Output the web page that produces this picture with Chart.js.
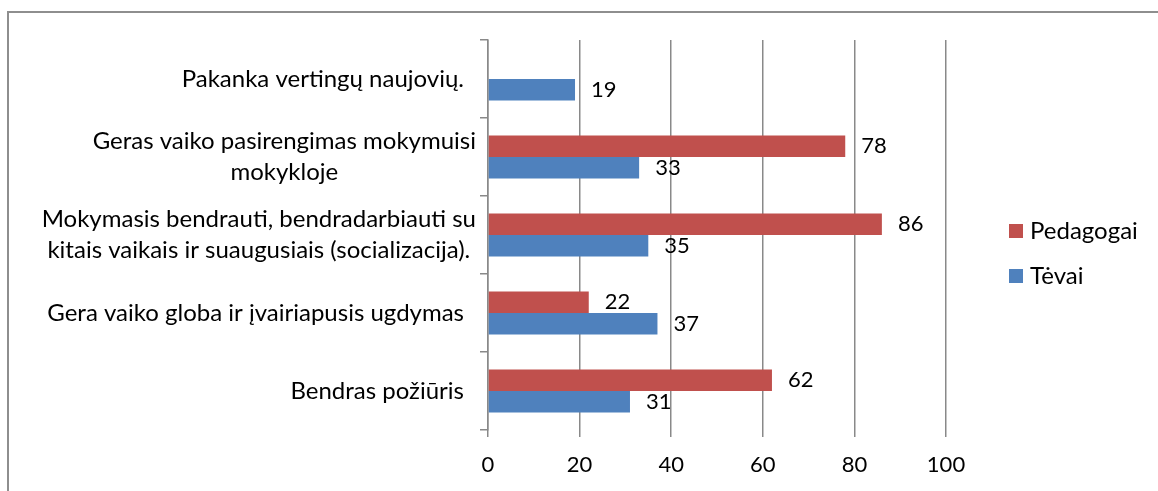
<!DOCTYPE html>
<html>
<head>
<meta charset="utf-8">
<script src="https://cdn.jsdelivr.net/npm/chart.js@4.4.0/dist/chart.umd.min.js"></script>
<style>
    html, body { margin: 0; padding: 0; background: #fff; }
    #wrap { position: relative; width: 1158px; height: 491px; overflow: hidden; }
    #frame { position: absolute; left: 7px; top: 11px; width: 1200px; height: 600px;
             border-left: 2px solid #8e8e8e; border-top: 2px solid #8e8e8e; }
    canvas { position: absolute; left: 0; top: 0; }
</style>
</head>
<body>
<div id="wrap">
    <div id="frame"></div>
    <canvas id="barChart" width="1158" height="491"></canvas>
</div>
<script>
const categories = [
    ['Pakanka vertingų naujovių.'],
    ['Geras vaiko pasirengimas mokymuisi', 'mokykloje'],
    ['Mokymasis bendrauti, bendradarbiauti su', 'kitais vaikais ir suaugusiais (socializacija).'],
    ['Gera vaiko globa ir įvairiapusis ugdymas'],
    ['Bendras požiūris'],
];
const pedagogai = [null, 78, 86, 22, 62];
const tevai = [19, 33, 35, 37, 31];
const seriesNames = ['Pedagogai', 'Tėvai'];
const xMin = 0;
const xMax = 100;
const xStep = 20;

const FONT = 'Lato, "Open Sans", sans-serif';
const NUM_SIZE = 22;
const TEXT_SIZE = 24;
const GRID = '#898989';

// value labels, wrapped category labels and legend drawn on top
const overlay = {
    id: 'overlay',
    afterDraw(chart) {
        const ctx = chart.ctx;
        ctx.save();
        ctx.fillStyle = '#000';
        ctx.textBaseline = 'middle';

        ctx.font = `${NUM_SIZE}px ${FONT}`;
        chart.data.datasets.forEach((ds, di) => {
            const meta = chart.getDatasetMeta(di);
            meta.data.forEach((bar, i) => {
                if (ds.data[i] == null) {
                    return;
                }
                ctx.textAlign = 'left';
                ctx.fillText(String(ds.data[i]), bar.x + 16, bar.y);
            });
        });

        ctx.font = `${TEXT_SIZE}px ${FONT}`;
        const yScale = chart.scales.y;
        const lineH = 31;
        categories.forEach((lines, i) => {
            const y = yScale.getPixelForValue(i);
            const right = lines.length > 1 ? 476 : 464;
            const blockW = Math.max(...lines.map((l) => ctx.measureText(l).width));
            const cx = right - blockW / 2;
            ctx.textAlign = 'center';
            lines.forEach((line, j) => {
                ctx.fillText(line, cx, y + (j - (lines.length - 1) / 2) * lineH);
            });
        });

        const legendY = [231, 276];
        chart.data.datasets.forEach((ds, di) => {
            ctx.fillStyle = ds.backgroundColor;
            ctx.fillRect(1009, legendY[di] - 7, 14, 14);
            ctx.fillStyle = '#000';
            ctx.textAlign = 'left';
            ctx.fillText(ds.label, 1030, legendY[di]);
        });
        ctx.restore();
    }
};

new Chart(document.getElementById('barChart').getContext('2d'), {
    type: 'bar',
    data: {
        labels: categories,
        datasets: [
            {
                label: seriesNames[0],
                data: pedagogai,
                backgroundColor: '#C0504D',
                borderWidth: 0,
                barPercentage: 1,
                categoryPercentage: 0.55,
            },
            {
                label: seriesNames[1],
                data: tevai,
                backgroundColor: '#4F81BD',
                borderWidth: 0,
                barPercentage: 1,
                categoryPercentage: 0.55,
            }
        ]
    },
    options: {
        indexAxis: 'y',
        responsive: false,
        animation: false,
        devicePixelRatio: 1,
        layout: {
            padding: { top: 40, right: 212, bottom: 0, left: 0 }
        },
        scales: {
            x: {
                min: xMin,
                max: xMax,
                afterFit: (scale) => { scale.height = 61; },
                ticks: {
                    stepSize: xStep,
                    color: '#000',
                    padding: 15,
                    font: { family: FONT, size: NUM_SIZE },
                },
                grid: {
                    color: GRID,
                    lineWidth: 1.5,
                    tickLength: 7,
                },
                border: { display: false },
            },
            y: {
                afterFit: (scale) => { scale.width = 488; },
                ticks: {
                    color: 'rgba(0,0,0,0)',
                    font: { family: FONT, size: NUM_SIZE },
                },
                grid: {
                    drawOnChartArea: false,
                    color: GRID,
                    lineWidth: 1.5,
                    tickLength: 8,
                    offset: true,
                },
                border: { display: true, color: GRID, width: 1.5 },
            }
        },
        plugins: {
            legend: { display: false },
            tooltip: { enabled: false },
        }
    },
    plugins: [overlay]
});
</script>
</body>
</html>
